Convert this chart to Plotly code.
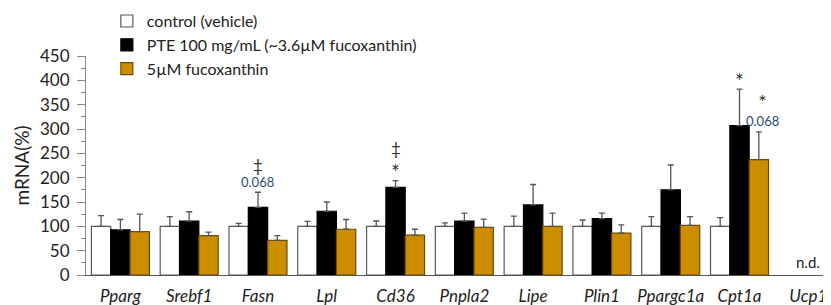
import plotly.graph_objects as go

categories = ["Pparg", "Srebf1", "Fasn", "Lpl", "Cd36", "Pnpla2", "Lipe", "Plin1", "Ppargc1a", "Cpt1a", "Ucp1"]
series_names = ["control (vehicle)", "PTE 100 mg/mL (~3.6µM fucoxanthin)", "5µM fucoxanthin"]
control = [100, 100, 100, 100, 100, 100, 100, 100, 100, 100, None]
control_err = [22, 20, 6, 10, 11, 7, 21, 13, 20, 18, None]
pte = [93, 111, 139, 131, 180, 111, 144, 116, 175, 307, None]
pte_err = [21, 19, 31, 19, 14, 16, 42, 11, 51, 75, None]
fuco = [89, 81, 71, 94, 82, 98, 100, 86, 102, 237, None]
fuco_err = [36, 7, 10, 20, 12, 17, 27, 17, 18, 57, None]
y_ticks = [0, 50, 100, 150, 200, 250, 300, 350, 400, 450]

FONT = "Lato"
fig = go.Figure()
specs = [
    (series_names[0], control, control_err, "#FFFFFF", "#595959", "#555555"),
    (series_names[1], pte, pte_err, "#000000", "#000000", "#555555"),
    (series_names[2], fuco, fuco_err, "#CC8E00", "#6B4C00", "#555555"),
]
for name, vals, errs, fill, line, ecol in specs:
    fig.add_trace(go.Bar(
        name=name, x=categories, y=vals,
        marker=dict(color=fill, line=dict(color=line, width=1.2)),
        error_y=dict(type="data", array=errs, arrayminus=[0] * len(errs), symmetric=False,
                     color=ecol, thickness=1.3, width=3),
    ))

ann_color = "#333333"
blue = "#1F4E79"
annos = [
    (2, 226, "‡", ann_color, 17),
    (2, 192, "0.068", blue, 13),
    (4, 259, "‡", ann_color, 17),
    (4, 213, "*", ann_color, 21),
    (9, 400, "*", ann_color, 21),
    (9.33, 341, "<span style='font-size:20px;color:#333333'>*</span><br>0.068", blue, 13),
    (10, 27, "n.d.", "#222222", 15),
]
for x, y, t, c, s in annos:
    fig.add_annotation(x=x, y=y, xref="x", yref="y", text=t, showarrow=False,
                       font=dict(family=FONT, size=s, color=c))

fig.update_layout(
    width=823, height=297,
    margin=dict(l=78, r=0, t=48, b=30, autoexpand=False),
    paper_bgcolor="white", plot_bgcolor="white",
    barmode="group", bargap=0.157, bargroupgap=0,
    font=dict(family=FONT, color="#222222"),
    showlegend=True,
    legend=dict(x=0.028, y=1.237, xanchor="left", yanchor="top", bgcolor="rgba(0,0,0,0)",
                font=dict(size=16, family=FONT, color="#222222"), tracegroupgap=0, itemwidth=30),
    xaxis=dict(range=[-0.5, 10.33], showline=True, linecolor="#555555", linewidth=1.2,
               ticks="", tickfont=dict(size=17, family=FONT, style="italic"),
               ticklabelstandoff=5, showgrid=False, fixedrange=True),
    yaxis=dict(range=[0, 450], tickvals=y_ticks, showline=True, linecolor="#888888", linewidth=1.2,
               ticks="outside", ticklen=8, tickcolor="#888888",
               minor=dict(dtick=25, ticks="outside", ticklen=4, tickcolor="#888888"),
               tickfont=dict(size=17, family=FONT), ticklabelstandoff=4,
               showgrid=False, zeroline=False,
               title=dict(text="mRNA(%)", font=dict(size=19, family=FONT), standoff=5)),
)
fig.write_html("out.html")
